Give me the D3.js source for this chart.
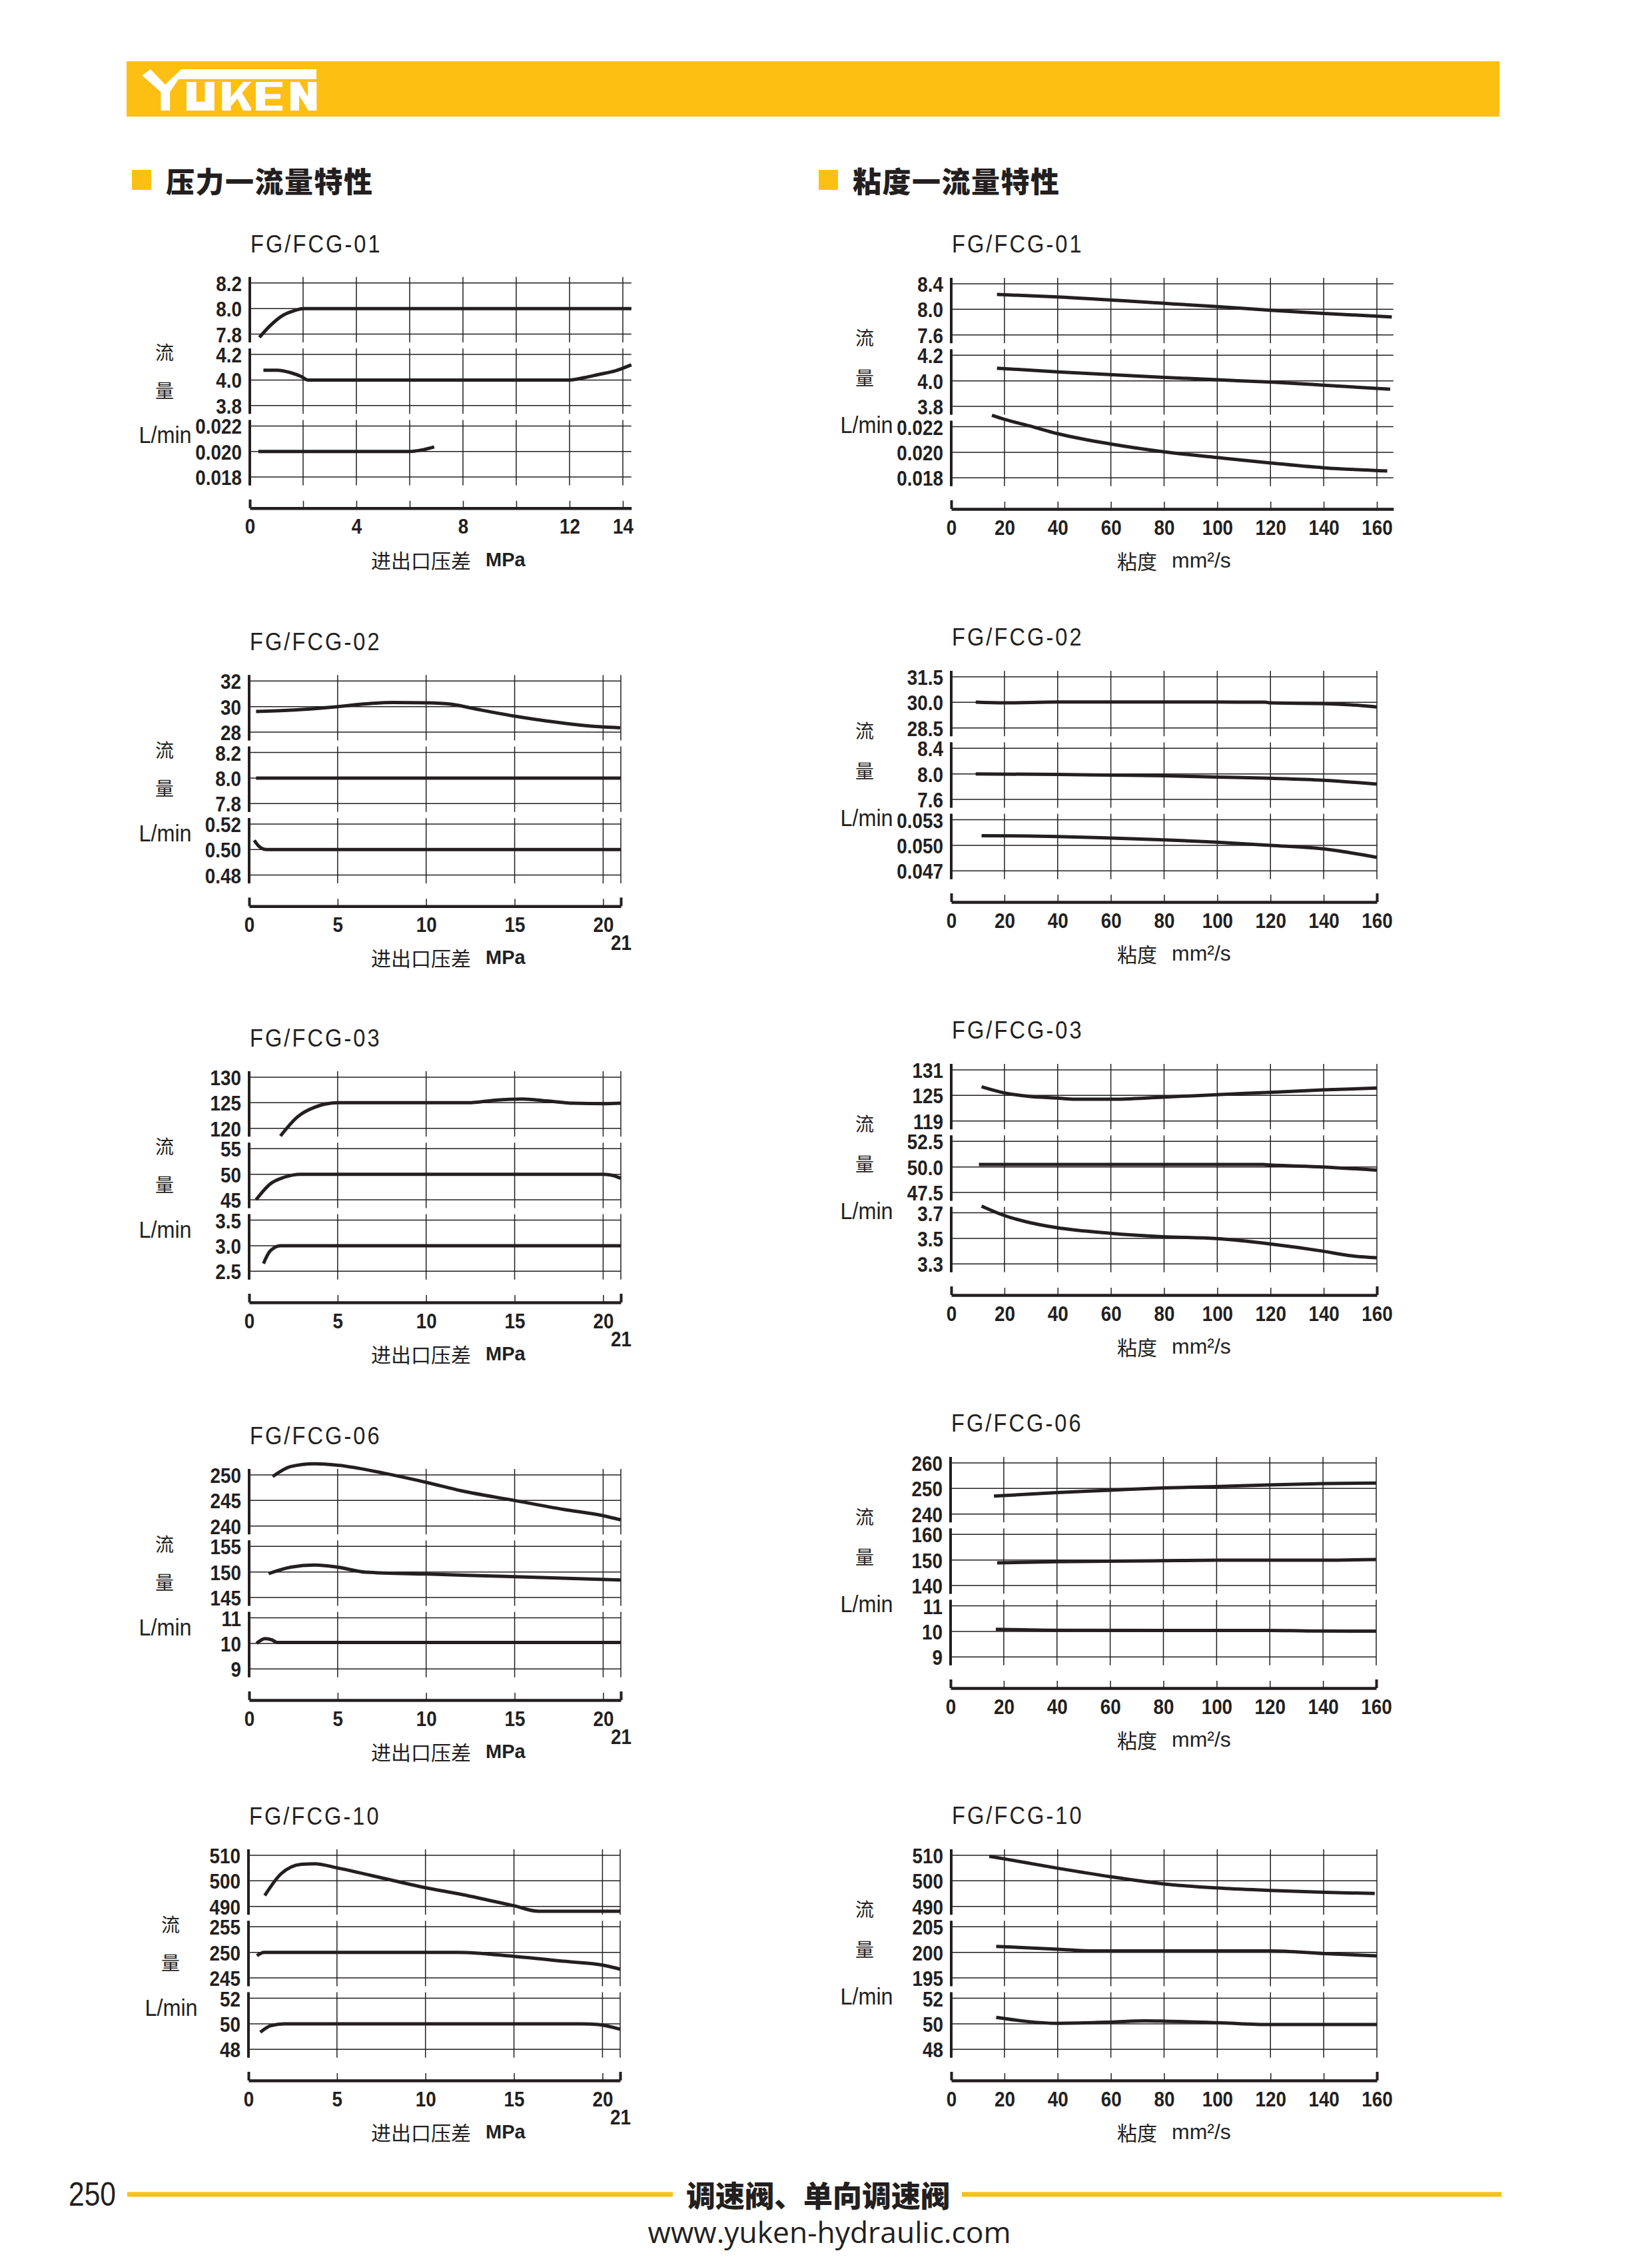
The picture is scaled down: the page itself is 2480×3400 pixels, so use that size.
<!DOCTYPE html>
<html>
<head>
<meta charset="UTF-8">
<script src="https://cdn.jsdelivr.net/npm/d3@7"></script>
<style>
  body { margin: 0; background: #fff; }
</style>
</head>
<body>
<svg id="page" width="2480" height="3400"></svg>
<script>
// ---------- data: 压力一流量特性 (x = 进出口压差 MPa) ----------
const pTitles = ["FG/FCG-01", "FG/FCG-02", "FG/FCG-03", "FG/FCG-06", "FG/FCG-10"];
const pGrid14 = [0, 2, 4, 6, 8, 10, 12, 14];
const pLabels14 = [0, 4, 8, 12, 14];
const pGrid21 = [0, 5, 10, 15, 20, 21];
const pLabels21 = [0, 5, 10, 15, 20, 21];

const pY01 = [["8.2", "8.0", "7.8"], ["4.2", "4.0", "3.8"], ["0.022", "0.020", "0.018"]];
const pY02 = [["32", "30", "28"], ["8.2", "8.0", "7.8"], ["0.52", "0.50", "0.48"]];
const pY03 = [["130", "125", "120"], ["55", "50", "45"], ["3.5", "3.0", "2.5"]];
const pY06 = [["250", "245", "240"], ["155", "150", "145"], ["11", "10", "9"]];
const pY10 = [["510", "500", "490"], ["255", "250", "245"], ["52", "50", "48"]];

const p01a = [[0.36, 7.774], [0.77, 7.867], [1.28, 7.951], [1.67, 7.983], [2.0, 8.0], [14.32, 8.0]];
const p01b = [[0.51, 4.077], [1.03, 4.077], [1.54, 4.057], [1.92, 4.028], [2.18, 4.0], [12.0, 4.0], [12.56, 4.019], [13.08, 4.043], [13.72, 4.072], [14.32, 4.119]];
const p01c = [[0.32, 0.020], [6.0, 0.020], [6.41, 0.0201], [6.92, 0.02036]];

const p02a = [[0.39, 29.62], [2.35, 29.72], [5.01, 30.0], [6.97, 30.26], [8.13, 30.32], [10.06, 30.30], [11.4, 30.19], [12.95, 29.77], [15.0, 29.25], [16.8, 28.87], [18.73, 28.55], [20.04, 28.4], [20.96, 28.34]];
const p02b = [[0.39, 8.0], [21, 8.0]];
const p02c = [[0.29, 0.5072], [0.52, 0.5030], [0.96, 0.50], [21, 0.50]];

const p03a = [[1.77, 118.5], [2.74, 122.26], [3.70, 124.12], [5.01, 125], [12.37, 125], [13.91, 125.51], [15.45, 125.74], [16.8, 125.37], [18.34, 124.9], [20.04, 124.81], [21, 124.9]];
const p03b = [[0.39, 45.0], [1.19, 48.1], [1.97, 49.4], [2.93, 50], [20.04, 50], [20.56, 49.76], [21, 49.2]];
const p03c = [[0.81, 2.651], [1.19, 2.897], [1.77, 3.0], [21, 3.0]];

const p06a = [[1.33, 249.67], [2.35, 251.65], [3.70, 252.2], [5.01, 251.9], [7.75, 250.24], [10.06, 248.5], [11.98, 246.9], [15.0, 245], [17.76, 243.25], [20.04, 241.98], [21, 241.2]];
const p06b = [[1.1, 149.67], [2.35, 150.93], [3.70, 151.36], [5.01, 150.93], [6.59, 149.95], [10.06, 149.58], [15, 149.07], [21, 148.41]];
const p06c = [[0.42, 10.0], [0.9, 10.19], [1.29, 10.14], [1.58, 10.04], [21, 10.04]];

const p10a = [[0.92, 494.25], [1.83, 502.7], [2.99, 506.5], [3.76, 506.7], [4.99, 505.1], [8.19, 500.1], [10.02, 497.3], [12.04, 494.7], [15.03, 490.2], [16.38, 488.1], [21, 488.1]];
const p10b = [[0.48, 249.34], [0.87, 250], [11.85, 250], [15.03, 249.2], [17.82, 248.25], [20.1, 247.45], [21, 246.7]];
const p10c = [[0.67, 49.34], [1.25, 49.85], [2.02, 50], [18.78, 50], [19.75, 49.94], [21, 49.57]];

// ---------- data: 粘度一流量特性 (x = 粘度 mm²/s) ----------
const vGrid = [0, 20, 40, 60, 80, 100, 120, 140, 160];
const vLabels = [0, 20, 40, 60, 80, 100, 120, 140, 160];

const vY01 = [["8.4", "8.0", "7.6"], ["4.2", "4.0", "3.8"], ["0.022", "0.020", "0.018"]];
const vY02 = [["31.5", "30.0", "28.5"], ["8.4", "8.0", "7.6"], ["0.053", "0.050", "0.047"]];
const vY03 = [["131", "125", "119"], ["52.5", "50.0", "47.5"], ["3.7", "3.5", "3.3"]];
const vY06 = [["260", "250", "240"], ["160", "150", "140"], ["11", "10", "9"]];
const vY10 = [["510", "500", "490"], ["205", "200", "195"], ["52", "50", "48"]];

const v01a = [[17.2, 8.234], [40, 8.193], [80, 8.094], [100, 8.042], [120, 7.985], [140, 7.936], [165.6, 7.88]];
const v01b = [[17.2, 4.099], [40, 4.070], [80, 4.027], [100, 4.008], [120, 3.99], [140, 3.966], [165, 3.934]];
const v01c = [[15.3, 0.02290], [20, 0.02258], [29.5, 0.02206], [40, 0.02146], [60, 0.02065], [80, 0.02004], [100, 0.01959], [120, 0.01916], [140, 0.01879], [163.9, 0.01854]];

const v02a = [[9.2, 30.01], [20, 29.97], [40, 30.02], [100, 30.02], [118, 30.01], [120, 29.97], [140, 29.93], [150, 29.86], [160, 29.73]];
const v02b = [[9.2, 8.0], [40, 7.99], [60, 7.98], [80, 7.97], [100, 7.95], [120, 7.93], [140, 7.90], [160, 7.84]];
const v02c = [[11.4, 0.05113], [29.5, 0.0511], [40, 0.05104], [60, 0.05085], [80, 0.05065], [100, 0.05037], [120, 0.0500], [140, 0.04958], [160, 0.04859]];

const v03a = [[11.4, 127.02], [19.7, 125.62], [29.2, 124.78], [39.6, 124.38], [46.5, 124.1], [59.7, 124.1], [79.6, 124.6], [99.7, 125.17], [119.8, 125.73], [139.7, 126.29], [160, 126.74]];
const v03b = [[10.4, 50.23], [117.3, 50.23], [119.8, 50.19], [139.7, 50.0], [160, 49.68]];
const v03c = [[11.4, 3.753], [19.7, 3.681], [29.2, 3.625], [39.6, 3.584], [59.7, 3.54], [79.6, 3.513], [99.7, 3.498], [119.8, 3.457], [139.7, 3.40], [149.1, 3.367], [160, 3.348]];

const v06a = [[16.3, 247.0], [40.1, 248.4], [60, 249.3], [80.1, 250.2], [100, 250.75], [120, 251.4], [140, 251.9], [160, 252.1]];
const v06b = [[17.5, 148.86], [40.1, 149.34], [60, 149.53], [80.1, 149.72], [100, 149.9], [140, 149.9], [160, 150.2]];
const v06c = [[17, 10.085], [27.9, 10.065], [40.1, 10.047], [80.1, 10.038], [120, 10.038], [134, 10.02], [160, 10.01]];

const v10a = [[14.3, 509.63], [20, 508.6], [40, 504.95], [60, 501.6], [80, 498.8], [100, 497.2], [120, 496.26], [140, 495.5], [159.2, 495.05]];
const v10b = [[16.9, 201.17], [40, 200.61], [54, 200.28], [120, 200.28], [140, 199.77], [160, 199.3]];
const v10c = [[16.9, 50.51], [40, 50.04], [60, 50.13], [72.8, 50.23], [80, 50.21], [100, 50.09], [120, 49.94], [160, 49.94]];

// ---------- styles / layout ----------
const ink = "#231f20";
const yellow = "#fdbf12";
const LAT = "'Liberation Sans', Arial, sans-serif";
const CJK = "'Noto Sans CJK SC', 'Noto Sans CJK JP', sans-serif";
const STRIDE = 107.3, STEP = 38.35, PAD_T = 9, PAD_B = 12.5;
const NUM_SIZE = 32, NUM_SX = 0.87;   // tall condensed numerals

const svg = d3.select("#page");

const charts = [
  { title: pTitles[0], y0: 424.8, side: "L", ref: 14, xMax: 14.32, x0: 375, xRef: 935, grid: pGrid14, labels: pLabels14, ticks: pY01, curves: [p01a, p01b, p01c] },
  { title: pTitles[1], y0: 1022.3, side: "L", ref: 21, xMax: 21, x0: 374, xRef: 932, grid: pGrid21, labels: pLabels21, ticks: pY02, curves: [p02a, p02b, p02c] },
  { title: pTitles[2], y0: 1617, side: "L", ref: 21, xMax: 21, x0: 374, xRef: 932, grid: pGrid21, labels: pLabels21, ticks: pY03, curves: [p03a, p03b, p03c] },
  { title: pTitles[3], y0: 2214, side: "L", ref: 21, xMax: 21, x0: 374, xRef: 932, grid: pGrid21, labels: pLabels21, ticks: pY06, curves: [p06a, p06b, p06c] },
  { title: pTitles[4], y0: 2785, side: "L", ref: 21, xMax: 21, x0: 373, xRef: 931, grid: pGrid21, labels: pLabels21, ticks: pY10, curves: [p10a, p10b, p10c], shift: 9 },
  { title: pTitles[0], y0: 426, side: "R", ref: 160, xMax: 166.2, x0: 1428, xRef: 2067, grid: vGrid, labels: vLabels, ticks: vY01, curves: [v01a, v01b, v01c] },
  { title: pTitles[1], y0: 1016, side: "R", ref: 160, xMax: 160, x0: 1428, xRef: 2067, grid: vGrid, labels: vLabels, ticks: vY02, curves: [v02a, v02b, v02c] },
  { title: pTitles[2], y0: 1606, side: "R", ref: 160, xMax: 160, x0: 1428, xRef: 2067, grid: vGrid, labels: vLabels, ticks: vY03, curves: [v03a, v03b, v03c] },
  { title: pTitles[3], y0: 2196, side: "R", ref: 160, xMax: 160, x0: 1427, xRef: 2066, grid: vGrid, labels: vLabels, ticks: vY06, curves: [v06a, v06b, v06c] },
  { title: pTitles[4], y0: 2785, side: "R", ref: 160, xMax: 160, x0: 1428, xRef: 2067, grid: vGrid, labels: vLabels, ticks: vY10, curves: [v10a, v10b, v10c] }
];

function drawChart(c) {
  const g = svg.append("g");
  const k = (c.xRef - c.x0) / c.ref;
  const x = d3.scaleLinear().domain([0, c.xMax]).range([c.x0, c.x0 + k * c.xMax]);
  const xEnd = x(c.xMax);

  // title (narrowed a little, wide tracking)
  const ty = c.y0 - (c.side === "L" ? 46 : 47);
  g.append("text").attr("transform", `translate(${c.x0 + 1},${ty}) scale(0.88,1)`)
    .attr("font-family", LAT).attr("font-size", 37).attr("letter-spacing", 3.5)
    .attr("fill", ink).text(c.title);

  c.ticks.forEach((labels, i) => {
    const top = c.y0 + i * STRIDE;
    const vals = labels.map(Number);
    const y = d3.scaleLinear().domain([vals[2], vals[0]]).range([top + 2 * STEP, top]);
    const pTop = top - PAD_T, pBot = top + 2 * STEP + PAD_B;

    g.append("g").selectAll("line").data(c.grid).join("line")
      .attr("x1", d => x(d)).attr("x2", d => x(d))
      .attr("y1", pTop).attr("y2", pBot)
      .attr("stroke", ink).attr("stroke-width", 1.5);

    g.append("g").selectAll("line").data(vals).join("line")
      .attr("x1", c.x0).attr("x2", xEnd)
      .attr("y1", d => y(d)).attr("y2", d => y(d))
      .attr("stroke", ink).attr("stroke-width", 1.5);

    const ay = g.append("g").attr("transform", `translate(${c.x0},0)`)
      .call(d3.axisLeft(y).tickValues(vals).tickSize(0).tickPadding(12)
        .tickFormat(d => labels[vals.indexOf(d)]));
    ay.select(".domain").remove();
    ay.attr("font-family", LAT).attr("font-size", NUM_SIZE).attr("font-weight", "bold");
    ay.selectAll("text").attr("fill", ink).attr("x", null).attr("dy", "0.36em")
      .attr("transform", `translate(-12,0) scale(${NUM_SX},1)`);

    g.append("line").attr("x1", c.x0).attr("x2", c.x0).attr("y1", pTop).attr("y2", pBot)
      .attr("stroke", ink).attr("stroke-width", 4);

    const line = d3.line().x(d => x(d[0])).y(d => y(d[1])).curve(d3.curveMonotoneX);
    g.append("path").datum(c.curves[i]).attr("d", line)
      .attr("fill", "none").attr("stroke", ink).attr("stroke-width", 5)
      .attr("stroke-linejoin", "round");
  });

  // x axis
  const ax = g.append("g").attr("transform", `translate(0,${c.y0 + 338})`)
    .call(d3.axisBottom(x).tickValues(c.grid).tickSizeInner(-11).tickSizeOuter(0)
      .tickFormat(d => c.labels.includes(d) ? d : ""));
  ax.select(".domain").attr("stroke", ink).attr("stroke-width", 4.5);
  ax.selectAll(".tick line").attr("stroke", ink)
    .attr("stroke-width", d => (d === 0 || d === c.xMax) ? 4 : 1.5)
    .attr("y2", d => (d === 0 || d === c.xMax) ? -13 : -11);
  ax.attr("font-family", LAT).attr("font-size", NUM_SIZE).attr("font-weight", "bold");
  ax.selectAll(".tick text").attr("fill", ink).attr("y", null).attr("dy", "0.36em")
    .attr("transform", d => `translate(0,${(c.side === "L" && d === 21) ? 54 : 27}) scale(${NUM_SX},1)`);

  // axis titles
  const s = c.shift || 0;
  const lx = c.side === "L" ? 247 + s : 1298;
  const dys = c.side === "L" ? [103, 160, 228] : [80, 140, 211];
  g.append("text").attr("x", lx).attr("y", c.y0 + dys[0]).attr("text-anchor", "middle")
    .attr("dominant-baseline", "central").attr("font-family", CJK).attr("font-size", 28)
    .attr("fill", ink).text("流");
  g.append("text").attr("x", lx).attr("y", c.y0 + dys[1]).attr("text-anchor", "middle")
    .attr("dominant-baseline", "central").attr("font-family", CJK).attr("font-size", 28)
    .attr("fill", ink).text("量");
  g.append("text").attr("transform", `translate(${lx + (c.side === "L" ? 1 : 3)},${c.y0 + dys[2]}) scale(0.9,1)`)
    .attr("text-anchor", "middle")
    .attr("dominant-baseline", "central").attr("font-family", LAT).attr("font-size", 36)
    .attr("fill", ink).text("L/min");

  const t = g.append("text").attr("y", c.y0 + 415).attr("dominant-baseline", "central").attr("fill", ink);
  if (c.side === "L") {
    t.attr("x", 557);
    t.append("tspan").attr("font-family", CJK).attr("font-size", 30).text("进出口压差");
    t.append("tspan").attr("dx", 22).attr("font-family", LAT).attr("font-size", 29)
      .attr("font-weight", "bold").text("MPa");
  } else {
    t.attr("x", 1677);
    t.append("tspan").attr("font-family", CJK).attr("font-size", 30).text("粘度");
    t.append("tspan").attr("dx", 22).attr("font-family", LAT).attr("font-size", 32)
      .text("mm²/s");
  }
}

// ---------- header ----------
svg.append("rect").attr("x", 190).attr("y", 92).attr("width", 2061).attr("height", 83).attr("fill", yellow);
const logo = [
  [[213.3, 113.3], [225.9, 104], [248, 127], [272, 104], [475, 104], [475, 118.7], [268, 118.7], [255.2, 138], [255.2, 166], [241.4, 166], [241.4, 138]],
  [[280, 123], [294.7, 123], [294.7, 152.7], [307.5, 152.7], [307.5, 123], [321.8, 123], [321.8, 166], [280, 166]],
  [[333.3, 123], [346.5, 123], [346.5, 166], [333.3, 166]],
  [[346.5, 146], [365, 123], [377, 123], [346.5, 160]],
  [[356, 147], [363, 139], [377, 162], [377, 166], [365, 166]],
  [[384, 123], [424, 123], [424, 130.5], [398, 130.5], [398, 141], [421, 141], [421, 148.5], [398, 148.5], [398, 158.5], [424, 158.5], [424, 166], [384, 166]],
  [[436, 123], [449, 123], [462, 145], [462, 123], [475.3, 123], [475.3, 166], [463, 166], [449, 143], [449, 166], [436, 166]]
];
svg.append("g").selectAll("polygon").data(logo).join("polygon")
  .attr("points", d => d.map(p => p.join(",")).join(" ")).attr("fill", "#fff");

// section titles
[[198, "压力一流量特性"], [1229, "粘度一流量特性"]].forEach(([sx, label]) => {
  svg.append("rect").attr("x", sx).attr("y", 255).attr("width", 29).attr("height", 30).attr("fill", yellow);
  svg.append("text").attr("x", sx + 51).attr("y", 270).attr("dominant-baseline", "central")
    .attr("font-family", CJK).attr("font-size", 43).attr("letter-spacing", 1.5).attr("font-weight", 900)
    .attr("fill", ink).text(label);
});

charts.forEach(drawChart);

// ---------- footer ----------
svg.append("text").attr("transform", "translate(103,3294) scale(0.85,1)").attr("dominant-baseline", "central")
  .attr("font-family", LAT).attr("font-size", 50).attr("fill", ink).text("250");
svg.append("rect").attr("x", 191).attr("y", 3290.5).attr("width", 819).attr("height", 7).attr("fill", yellow);
svg.append("rect").attr("x", 1444).attr("y", 3290.5).attr("width", 810).attr("height", 7).attr("fill", yellow);
svg.append("text").attr("x", 1228).attr("y", 3294).attr("text-anchor", "middle").attr("dominant-baseline", "central")
  .attr("font-family", CJK).attr("font-size", 44).attr("font-weight", 900).attr("fill", ink).text("调速阀、单向调速阀");
svg.append("text").attr("x", 1245).attr("y", 3350).attr("text-anchor", "middle").attr("dominant-baseline", "central")
  .attr("font-family", "'Open Sans', 'Noto Sans', sans-serif").attr("font-size", 44)
  .attr("textLength", 545).attr("lengthAdjust", "spacingAndGlyphs")
  .attr("fill", ink).text("www.yuken-hydraulic.com");
</script>
</body>
</html>
